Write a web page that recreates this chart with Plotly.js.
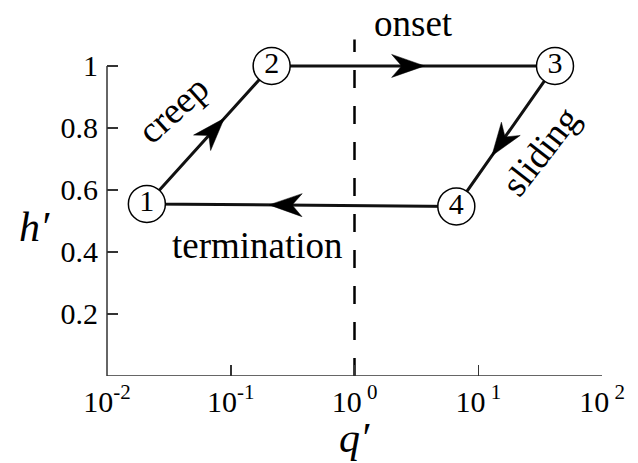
<!DOCTYPE html>
<html>
<head>
<meta charset="utf-8">
<script src="https://cdn.plot.ly/plotly-3.0.1.min.js"></script>
<style>
  html, body { margin: 0; padding: 0; background: #fff; }
  #chart { width: 638px; height: 463px; }
</style>
</head>
<body>
<div id="chart"></div>
<script>
// Cycle states in the (q', h') plane
const stateLabels = ['1', '2', '3', '4'];
const stateQ = [0.021, 0.214, 41.7, 6.65];
const stateH = [0.555, 1.0, 1.0, 0.547];

// Transitions: [from, to, position of the arrow tip along the segment]
const transitions = [
  [0, 1, 0.62],  // creep
  [1, 2, 0.54],  // onset
  [2, 3, 0.64],  // sliding
  [3, 0, 0.605]  // termination
];

// Onset threshold
const thresholdQ = 1;
const thresholdTop = 1.085;

// Axes
const xRange = [0.01, 100];
const yRange = [0, 1.09];
const xTickVals = [0.01, 0.1, 1, 10, 100];
const xTickText = ['10<sup>-2</sup>', '10<sup>-1</sup>', '10<sup> 0</sup>', '10<sup> 1</sup>', '10<sup> 2</sup>'];
const yTickVals = [0.2, 0.4, 0.6, 0.8, 1];
const yTickText = ['0.2', '0.4', '0.6', '0.8', '1'];

const W = 638, H = 463;
const M = { l: 107, r: 36, t: 38, b: 87 };
const SERIF = 'Liberation Serif, Times New Roman, serif';

// pixel scales of the plot area, used to shape the arrowheads
const xLog0 = Math.log10(xRange[0]);
const sx = (W - M.l - M.r) / (Math.log10(xRange[1]) - xLog0);
const sy = (H - M.t - M.b) / (yRange[1] - yRange[0]);
const toPx = (q, h) => [(Math.log10(q) - xLog0) * sx, (h - yRange[0]) * sy];
const fromPx = (px, py) => [Math.pow(10, px / sx + xLog0), py / sy + yRange[0]];

function arrowHead(i, j, f) {
  const L = 33, HW = 11.5, NOTCH = 10;
  const a = toPx(stateQ[i], stateH[i]);
  const b = toPx(stateQ[j], stateH[j]);
  const dx = b[0] - a[0], dy = b[1] - a[1];
  const len = Math.hypot(dx, dy);
  const ux = dx / len, uy = dy / len;
  const nx = -uy, ny = ux;
  const tx = a[0] + f * dx, ty = a[1] + f * dy;
  const pts = [
    [tx, ty],
    [tx - L * ux + HW * nx, ty - L * uy + HW * ny],
    [tx - (L - NOTCH) * ux, ty - (L - NOTCH) * uy],
    [tx - L * ux - HW * nx, ty - L * uy - HW * ny],
    [tx, ty]
  ].map(p => fromPx(p[0], p[1]));
  return {
    x: pts.map(p => p[0]), y: pts.map(p => p[1]),
    type: 'scatter', mode: 'lines', fill: 'toself',
    fillcolor: '#000', line: { color: '#000', width: 0.5 },
    hoverinfo: 'skip', showlegend: false
  };
}

const loopOrder = [0, 1, 2, 3, 0];
const traces = [
  {
    x: [thresholdQ, thresholdQ], y: [0, thresholdTop],
    type: 'scatter', mode: 'lines',
    line: { color: '#000', width: 2.5, dash: '18px,18px' },
    showlegend: false, hoverinfo: 'skip'
  },
  {
    x: loopOrder.map(k => stateQ[k]), y: loopOrder.map(k => stateH[k]),
    type: 'scatter', mode: 'lines',
    line: { color: '#111', width: 3 },
    showlegend: false, hoverinfo: 'skip'
  },
  ...transitions.map(t => arrowHead(t[0], t[1], t[2])),
  {
    x: stateQ, y: stateH, text: stateLabels,
    type: 'scatter', mode: 'markers+text', textposition: 'middle center',
    marker: { size: 37, color: '#fff', line: { color: '#000', width: 1.5 } },
    textfont: { family: SERIF, size: 30, color: '#000' },
    cliponaxis: false, showlegend: false, hoverinfo: 'skip'
  }
];

const labelFont = { family: SERIF, size: 37, color: '#000' };
const annotations = [
  { x: Math.log10(2.97), yref: 'paper', y: 1.044, yanchor: 'middle',
    text: 'onset', showarrow: false, font: labelFont },
  { x: Math.log10(0.0342), y: 0.86, text: 'creep', textangle: -42, showarrow: false, font: labelFont },
  { x: Math.log10(31.6), y: 0.725, text: 'sliding', textangle: -52, showarrow: false, font: labelFont },
  { x: Math.log10(0.166), y: 0.42, text: 'termination', showarrow: false, font: labelFont },
  { xref: 'paper', yref: 'paper', x: -0.147, y: 0.44, xanchor: 'center', yanchor: 'middle',
    text: '<i>h′</i>', showarrow: false,
    font: { family: SERIF, size: 42, color: '#000' } },
  { x: 0, yref: 'paper', y: -0.258, xanchor: 'center', yanchor: 'bottom',
    text: '<i>q′</i>', showarrow: false,
    font: { family: SERIF, size: 42, color: '#000' } }
];

const axisLine = { color: '#333', width: 1.5 };
const shapes = [
  { type: 'line', xref: 'paper', yref: 'y', x0: 0, x1: 0, y0: 0, y1: 1, line: axisLine },
  { type: 'line', xref: 'paper', yref: 'y', x0: 0, x1: 1, y0: 0, y1: 0, line: axisLine }
];

const layout = {
  width: W, height: H,
  margin: M,
  paper_bgcolor: '#fff', plot_bgcolor: '#fff',
  xaxis: {
    type: 'log', range: [Math.log10(xRange[0]), Math.log10(xRange[1])],
    tickvals: xTickVals, ticktext: xTickText,
    ticks: 'inside', ticklen: 11, tickwidth: 1.5, tickcolor: '#333',
    ticklabelstandoff: 5,
    showgrid: false, zeroline: false, showline: false,
    tickfont: { family: SERIF, size: 30, color: '#000' }
  },
  yaxis: {
    range: yRange,
    tickvals: yTickVals, ticktext: yTickText,
    ticks: 'inside', ticklen: 11, tickwidth: 1.5, tickcolor: '#333',
    ticklabelstandoff: 8,
    showgrid: false, zeroline: false, showline: false,
    tickfont: { family: SERIF, size: 30, color: '#000' }
  },
  shapes: shapes,
  annotations: annotations,
  showlegend: false
};

Plotly.newPlot('chart', traces, layout, { displayModeBar: false, staticPlot: true });
</script>
</body>
</html>
